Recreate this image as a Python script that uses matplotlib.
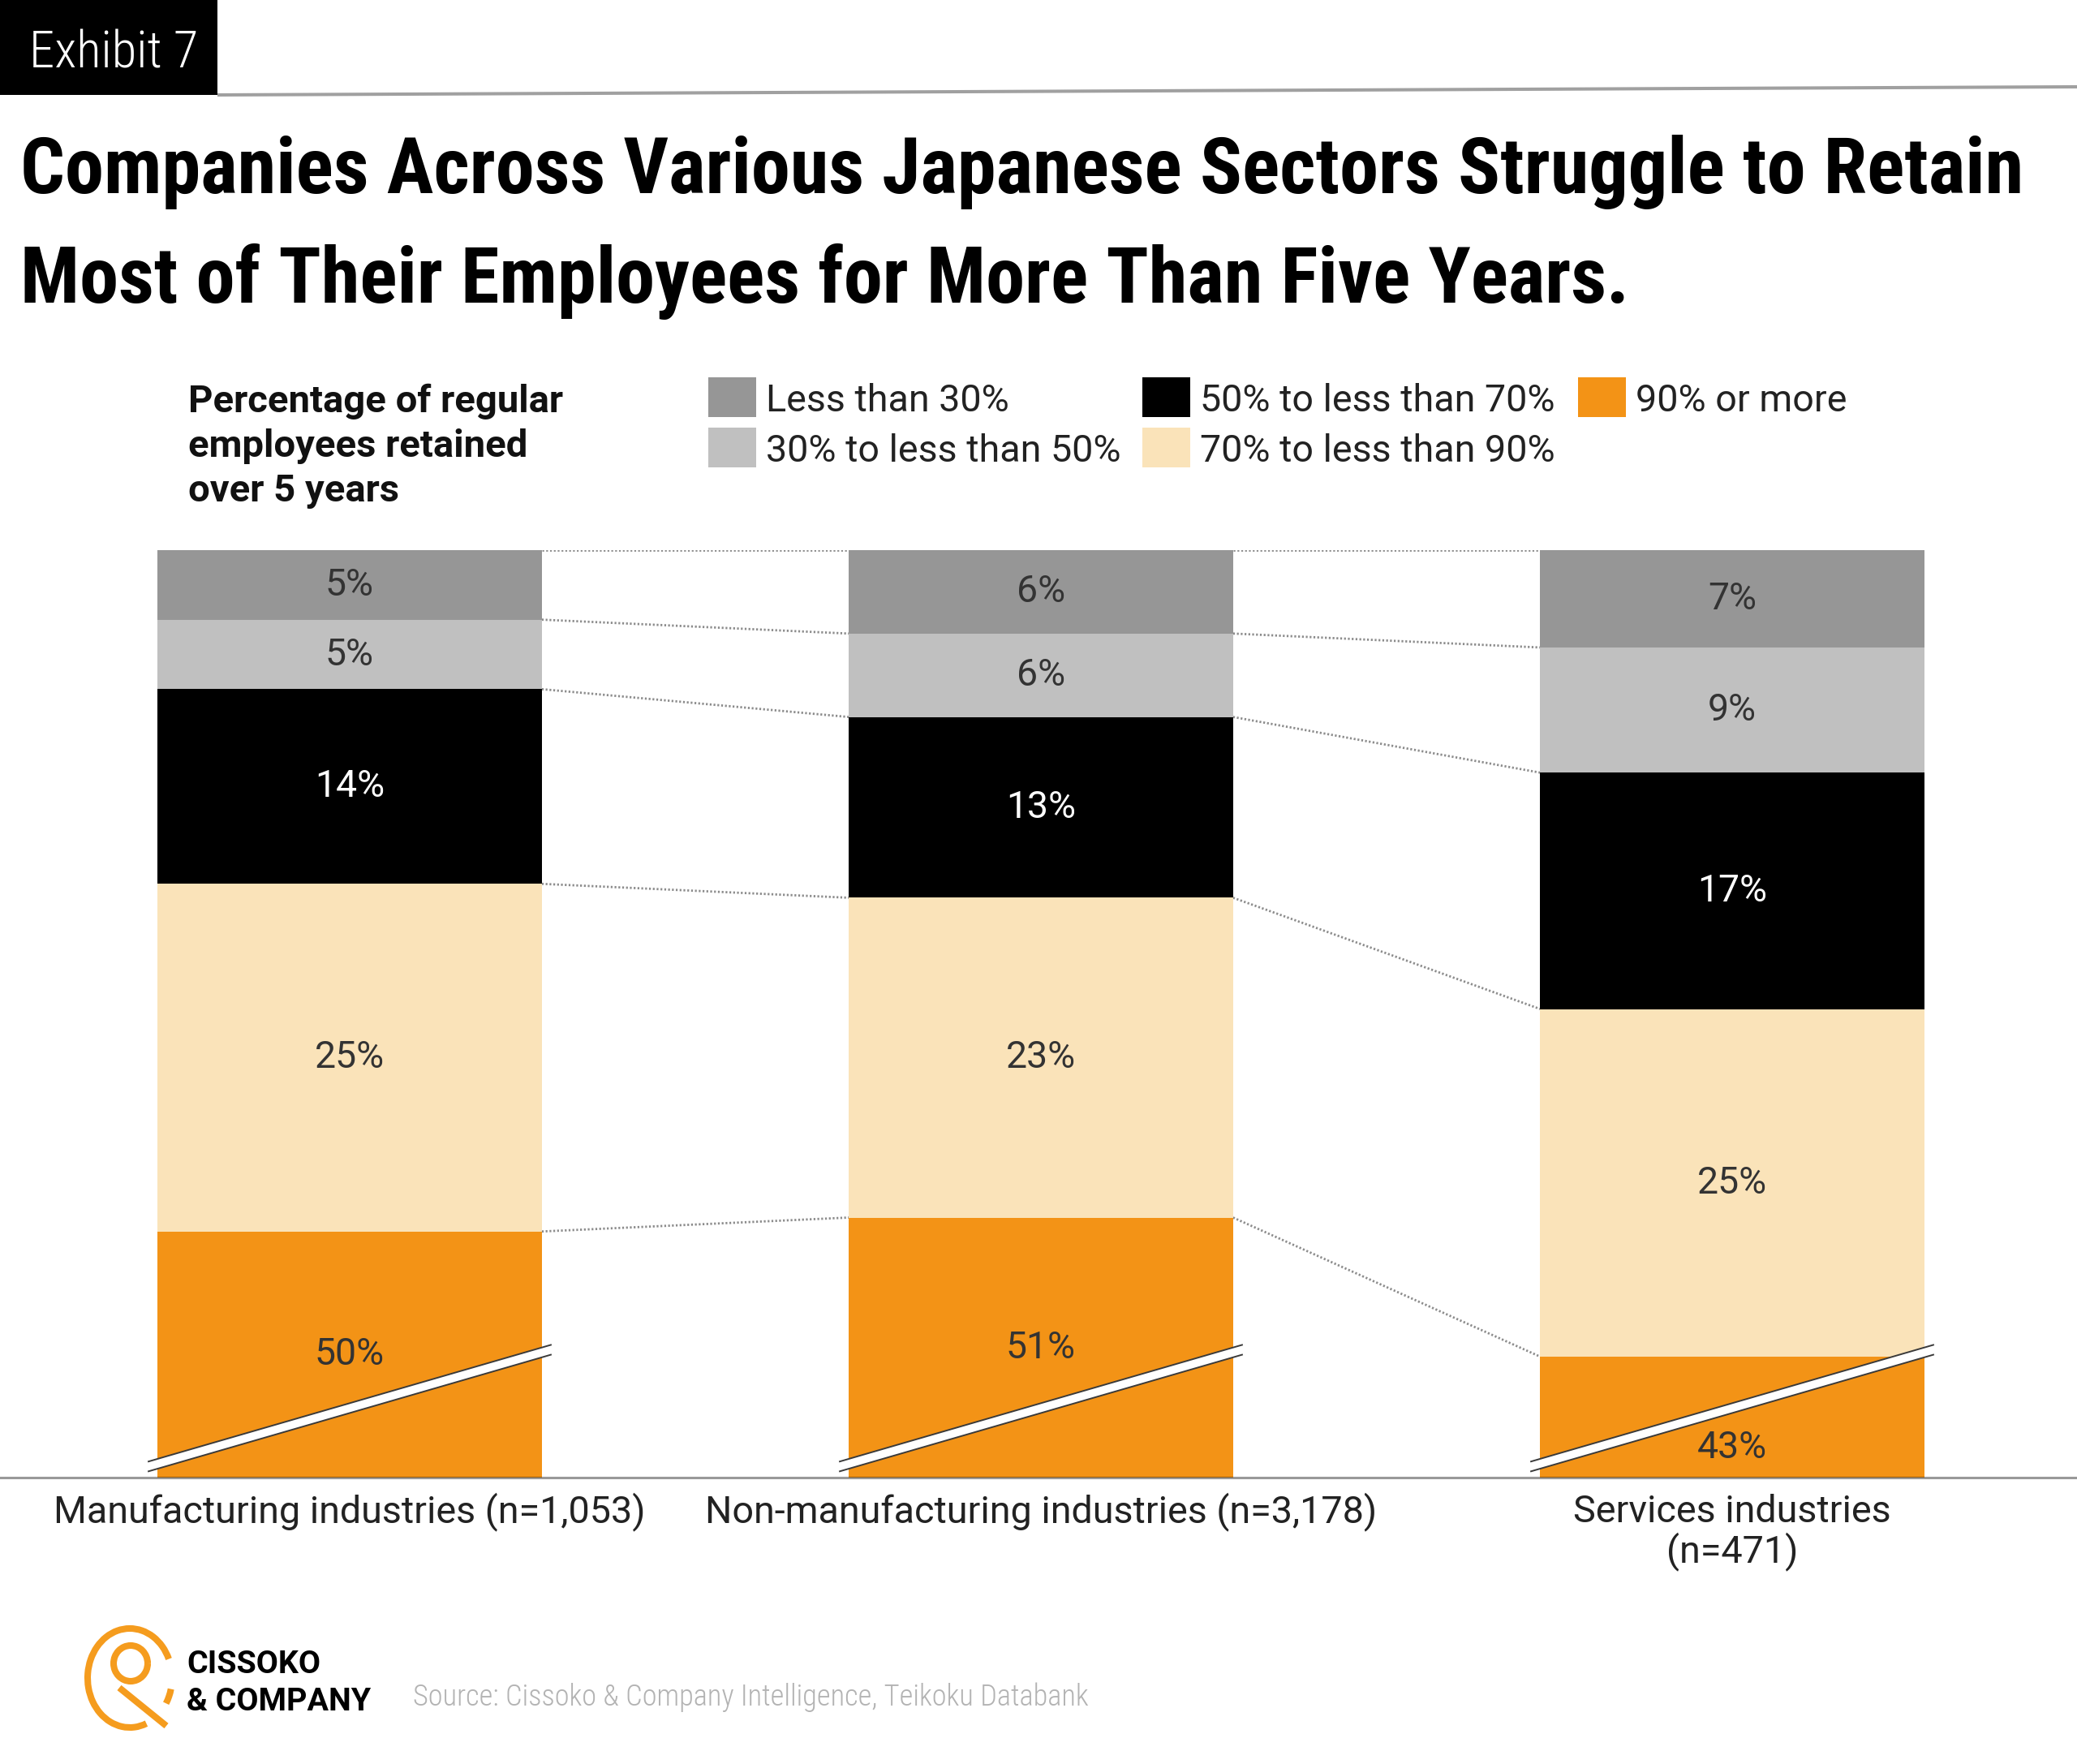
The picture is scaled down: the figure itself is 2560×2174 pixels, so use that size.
import numpy as np
import matplotlib
matplotlib.use("Agg")
import matplotlib.pyplot as plt
from matplotlib import font_manager as fm
from matplotlib.font_manager import FontProperties
from matplotlib.textpath import TextPath
from matplotlib.patches import Polygon, Arc, Rectangle
import matplotlib.transforms as mtransforms

# ---------------- data ----------------
categories = ["Manufacturing industries (n=1,053)",
              "Non-manufacturing industries (n=3,178)",
              "Services industries\n(n=471)"]
series_names = ["Less than 30%", "30% to less than 50%", "50% to less than 70%",
                "70% to less than 90%", "90% or more"]
less_than_30 = [5, 6, 7]
from_30_to_50 = [5, 6, 9]
from_50_to_70 = [14, 13, 17]
from_70_to_90 = [25, 23, 25]
ninety_or_more = [50, 51, 43]
series_colors = ["#969696", "#c0c0c0", "#000000", "#fae3b9", "#f39316"]
label_colors = ["#333333", "#333333", "#ffffff", "#333333", "#333333"]

title_lines = ["Companies Across Various Japanese Sectors Struggle to Retain",
               "Most of Their Employees for More Than Five Years."]
subtitle_lines = ["Percentage of regular", "employees retained", "over 5 years"]
exhibit_label = "Exhibit 7"
source_text = "Source: Cissoko & Company Intelligence, Teikoku Databank"
logo_lines = ["CISSOKO", "& COMPANY"]

# ---------------- fonts ----------------
W, H, DPI = 2560, 2174, 100
names = {f.name for f in fm.fontManager.ttflist}


def first(cands, default=None):
    for c in cands:
        if c in names:
            return c
    return default


body_family = first(["Roboto", "Lato", "Open Sans", "DejaVu Sans"], "DejaVu Sans")
narrow = first(["Roboto Condensed", "Liberation Sans Narrow", "Open Sans Condensed",
                "Noto Sans Condensed", "DejaVu Sans Condensed"])
if narrow:
    fp_title = FontProperties(family=narrow, weight="bold")
    fp_light_narrow = FontProperties(family=narrow, weight="light")
else:
    has_cond = any(f.name == "DejaVu Sans" and str(f.stretch) == "condensed"
                   for f in fm.fontManager.ttflist)
    if has_cond:
        fp_title = FontProperties(family="DejaVu Sans", weight="bold", stretch="condensed")
        fp_light_narrow = FontProperties(family="DejaVu Sans", weight="normal", stretch="condensed")
    else:
        fp_title = FontProperties(family=body_family, weight="bold")
        fp_light_narrow = FontProperties(family=body_family, weight="light")
fp_body = FontProperties(family=body_family, weight="normal")
fp_body_bold = FontProperties(family=body_family, weight="bold")

fig = plt.figure(figsize=(W / DPI, H / DPI), dpi=DPI)
fig.patch.set_facecolor("white")
renderer = fig.canvas.get_renderer()


def cap_ratio(fp):
    p = fp.copy()
    p.set_size(100)
    return TextPath((0, 0), "H", prop=p).get_extents().height / 100.0


def put(s, xpx, ypx, fp, cap=30, width=None, ha="left", va="baseline",
        color="#1a1a1a", grow=1.12, size_pt=None, zorder=10):
    p = fp.copy()
    if size_pt is None:
        p.set_size(cap / cap_ratio(fp) * 72.0 / DPI)
    else:
        p.set_size(size_pt)
    t = fig.text(xpx / W, 1 - ypx / H, s, fontproperties=p, ha=ha, va=va,
                 color=color, zorder=zorder)
    if width is not None and size_pt is None:
        w = t.get_window_extent(renderer).width
        t.set_fontsize(p.get_size() * min(width / w, grow))
    return t


# ---------------- overlay (pixel coords) ----------------
ov = fig.add_axes([0, 0, 1, 1])
ov.set_xlim(0, W)
ov.set_ylim(H, 0)
ov.axis("off")
ov.patch.set_visible(False)

ov.add_patch(Rectangle((0, 0), 268, 117, facecolor="black", edgecolor="none"))
ov.plot([268, W], [117, 107], color="#a0a0a0", lw=2.9, solid_capstyle="butt")

# logo
logo_c = "#f59c1e"
ov.add_patch(Arc((160, 2068), 104, 122, theta1=-290, theta2=-26, color=logo_c, lw=5.8))
ov.add_patch(Arc((160, 2068), 104, 122, theta1=15, theta2=35, color=logo_c, lw=5.8))
ov.add_patch(Arc((161, 2050), 42, 44, theta1=0, theta2=360, color=logo_c, lw=5.8))
ov.plot([147, 205], [2080, 2127], color=logo_c, lw=5.8, solid_capstyle="butt")

# ---------------- texts ----------------
put(exhibit_label, 36, 83, fp_light_narrow, cap=50, width=209, color="white")
t1 = put(title_lines[0], 25, 238, fp_title, cap=76, width=2468, color="#000000")
put(title_lines[1], 25, 373, fp_title, size_pt=t1.get_fontsize(), color="#000000")

s1 = put(subtitle_lines[0], 232, 508, fp_body_bold, cap=30, width=486, color="#111111")
for i, line in enumerate(subtitle_lines[1:], start=1):
    put(line, 232, 508 + 55 * i, fp_body_bold, size_pt=s1.get_fontsize(), color="#111111")

# legend (manual layout)
leg_sq_x = [873, 1408, 1945]
leg_sq_y = [465, 527]
probe = put(series_names[1], -2000, -2000, fp_body, cap=30, width=439)
leg_size = probe.get_fontsize()
probe.remove()
for k, (name, col) in enumerate(zip(series_names, series_colors)):
    cx, ry = leg_sq_x[k // 2], leg_sq_y[k % 2]
    ov.add_patch(Rectangle((cx, ry), 59, 49, facecolor=col, edgecolor="none"))
    put(name, cx + 71, ry + 24.5, fp_body, size_pt=leg_size, va="center_baseline",
        color="#222222")

# category labels
c1 = put(categories[0], -2000, -2000, fp_body, cap=31, width=730)
cat_size = c1.get_fontsize()
c1.remove()

# source & logo text
put(source_text, 509, 2102, fp_light_narrow, cap=27, width=833, color="#b3b3b3")
l1 = put(logo_lines[0], 230, 2062, fp_body_bold, cap=25, width=167, color="#000000")
put(logo_lines[1], 230, 2108, fp_body_bold, size_pt=l1.get_fontsize(), color="#000000")

# ---------------- main axes ----------------
base_y, top_y = 1821, 678
ax = fig.add_axes([0, (H - base_y) / H, 1, (base_y - top_y) / H])
ax.patch.set_visible(False)
center0, spacing = 431.0, 852.0
ax.set_xlim((0 - center0) / spacing, (W - center0) / spacing)
ymin = 33.3
ax.set_ylim(ymin, 100)
ax.axis("off")

x = np.arange(len(categories))
series = [less_than_30, from_30_to_50, from_50_to_70, from_70_to_90, ninety_or_more]
bw = 0.556
top = np.full(len(x), 100.0)
levels = [top.copy()]
seg_bounds = []
for vals, col, name in zip(series, series_colors, series_names):
    v = np.asarray(vals, dtype=float)
    bottom = top - v
    ax.bar(x, v, bottom=bottom, width=bw, color=col, linewidth=0, label=name, zorder=2)
    seg_bounds.append((bottom.copy(), top.copy(), v))
    top = bottom
    levels.append(top.copy())

# dotted connectors
for lev in levels[:5]:
    for i in range(len(x) - 1):
        ax.plot([x[i] + bw / 2, x[i + 1] - bw / 2], [lev[i], lev[i + 1]],
                color="#8c8c8c", lw=2.0, ls=(0, (0.8, 0.9)), zorder=1)

# segment labels
lab_fp = fp_body.copy()
lab_fp.set_size(33 / cap_ratio(fp_body) * 72.0 / DPI)
nser = len(seg_bounds)
for k, (bot, tp, v) in enumerate(seg_bounds):
    for i in range(len(x)):
        vb = max(bot[i], ymin)
        vis = tp[i] - vb
        if k == nser - 1 and vis < 12:
            yc = vb + 0.25 * vis
        else:
            yc = (tp[i] + vb) / 2
        ax.text(x[i], yc, f"{int(v[i])}%", ha="center", va="center",
                fontproperties=lab_fp, color=label_colors[k], zorder=7)

# axis break marks
trans = mtransforms.blended_transform_factory(ax.transData, ax.transAxes)
ext = 12 / spacing
y0c, y1c, th = 0.0118, 0.138, 0.0053
for xi in x:
    x0, x1 = xi - bw / 2 - ext, xi + bw / 2 + ext
    ax.add_patch(Polygon([[x0, y0c - th], [x1, y1c - th], [x1, y1c + th], [x0, y0c + th]],
                         closed=True, transform=trans, facecolor="white",
                         edgecolor="none", zorder=4, clip_on=False))
    for s in (-th, th):
        ax.plot([x0, x1], [y0c + s, y1c + s], transform=trans, color="#3a3a3a",
                lw=1.4, zorder=5, clip_on=False, solid_capstyle="butt")

# baseline
ax.axhline(ymin, color="black", alpha=0.4, lw=2.2, zorder=6, clip_on=False)

# category labels below bars
for i, cat in enumerate(categories):
    for j, line in enumerate(cat.split("\n")):
        xpx = center0 + spacing * x[i]
        put(line, xpx, 1876 + 49 * j, fp_body, size_pt=cat_size, ha="center",
            color="#222222")

fig.savefig("out.png", dpi=DPI, facecolor="white")
